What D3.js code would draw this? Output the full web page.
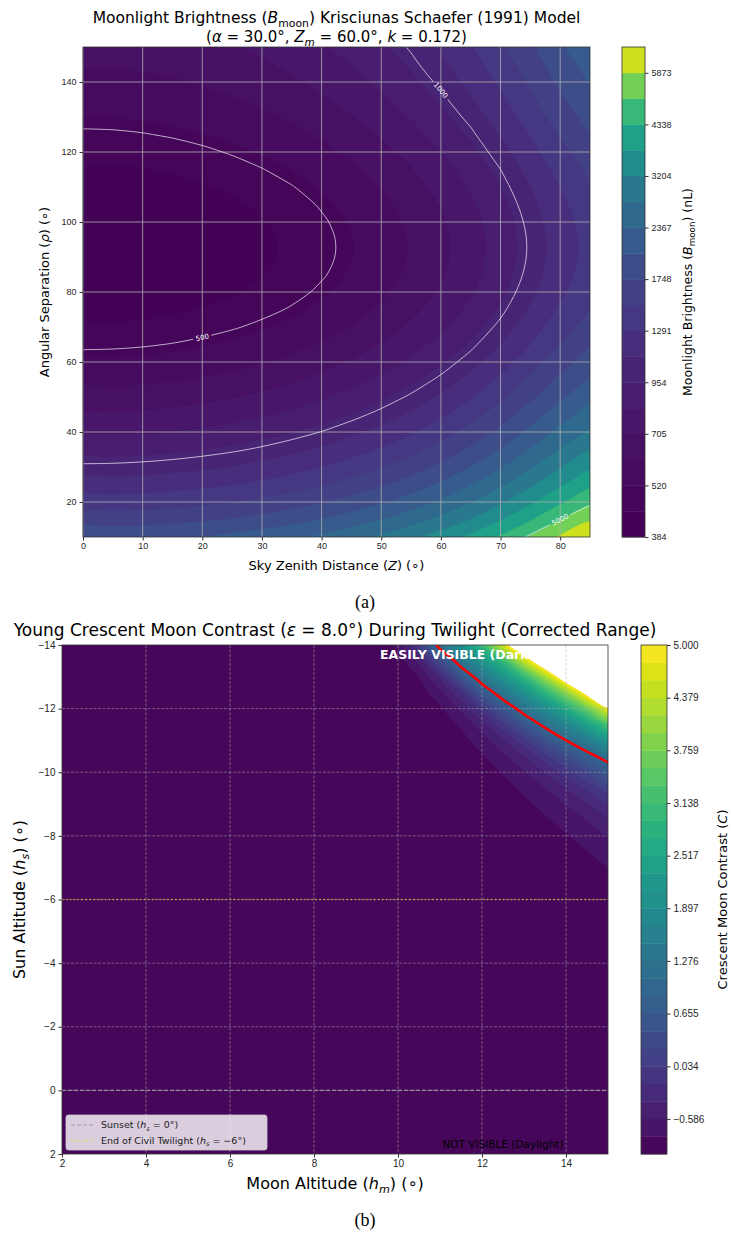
<!DOCTYPE html>
<html>
<head>
<meta charset="utf-8">
<script src="https://cdn.jsdelivr.net/npm/d3@7"></script>
<style>
  body { margin: 0; background: #fff; }
  svg { display: block; font-family: "DejaVu Sans", sans-serif; }
  .tick text { fill: #262626; }
  .tick line { stroke: #333; }
</style>
</head>
<body>
<svg id="fig" width="731" height="1234"></svg>
<script>
// ---------- panel (a): moonlight brightness, Krisciunas & Schaefer ----------
// brightness along the Z = 0 column (nL) for each angular separation
const rhoDeg = [10, 15, 20, 25, 30, 35, 40, 45, 50, 55, 60, 65, 70, 75, 80, 85, 90,
  95, 100, 105, 110, 115, 120, 125, 130, 135, 140, 145, 150];
const brightnessAtZenith = [1935.0, 1616.8, 1370.3, 1176.9, 1023.1, 898.7, 796.7, 711.9,
  640.6, 580.4, 529.7, 487.5, 452.9, 425.6, 405.4, 392.1, 385.3, 384.9, 390.6, 401.8,
  418.1, 438.9, 463.3, 490.5, 519.8, 550.0, 580.4, 609.8, 637.5];
// relative brightening with sky zenith distance
const zenithDeg = [0, 5, 10, 15, 20, 25, 30, 35, 40, 45, 50, 55, 60, 65, 70, 75, 80, 85];
const zenithGain = [1.0000, 1.0033, 1.0136, 1.0311, 1.0563, 1.0903, 1.1341, 1.1888,
  1.2593, 1.3462, 1.4550, 1.5919, 1.7659, 1.9891, 2.2773, 2.6462, 3.0920, 3.5311];

const brightnessLevels = [384.1, 447, 520, 605.5, 705, 820, 954, 1110, 1291, 1502, 1748,
  2034, 2367, 2754, 3204, 3728, 4338, 5048, 5873, 6834];
const brightnessTicks = [384, 520, 705, 954, 1291, 1748, 2367, 3204, 4338, 5873];
const lineLevels = [500, 1000, 5000];
const lineLabelSpots = [
  { level: 500, z: 22.4, rho: 68 },
  { level: 1000, z: 59.5, rho: 138.6 },
  { level: 5000, z: 79.2, rho: 14.6 }
];
const zenithTicks = [0, 10, 20, 30, 40, 50, 60, 70, 80];
const rhoTicks = [20, 40, 60, 80, 100, 120, 140];

// ---------- panel (b): young crescent contrast ----------
const moonAltDeg = [9, 9.5, 10, 10.5, 11, 11.5, 12, 12.5, 13, 13.5, 14, 14.5, 15];
const sunAltDeg = [-14, -13.5, -13, -12.5, -12, -11.5, -11, -10.5, -10, -9.5, -9, -8.5,
  -8, -7.5, -7, -6.5];
// contrast; outside this block the field sits at the floor (-1)
const contrastRows = [
  [-1.00, -0.97, -0.74, 0.03, 1.21, 1.97, 2.96, 4.60, 5.99, 8.22, 11.12, 14.88, 19.72],
  [-1.00, -0.99, -0.90, -0.53, 0.33, 1.30, 2.04, 3.01, 4.45, 5.89, 7.97, 10.65, 14.07],
  [-1.00, -1.00, -0.96, -0.79, -0.33, 0.51, 1.33, 2.05, 2.97, 4.15, 5.65, 7.55, 9.98],
  [-1.00, -1.00, -0.98, -0.90, -0.66, -0.18, 0.59, 1.32, 1.99, 2.84, 3.92, 5.28, 6.99],
  [-1.00, -1.00, -0.99, -0.96, -0.83, -0.55, -0.08, 0.59, 1.25, 1.87, 2.64, 3.61, 4.81],
  [-1.00, -1.00, -1.00, -0.98, -0.92, -0.76, -0.47, -0.03, 0.54, 1.15, 1.70, 2.38, 3.23],
  [-1.00, -1.00, -1.00, -0.99, -0.96, -0.87, -0.69, -0.41, -0.03, 0.45, 1.00, 1.48, 2.08],
  [-1.00, -1.00, -1.00, -1.00, -0.98, -0.93, -0.82, -0.64, -0.38, -0.05, 0.35, 0.80, 1.24],
  [-1.00, -1.00, -1.00, -1.00, -0.99, -0.96, -0.90, -0.78, -0.61, -0.37, -0.08, 0.25, 0.61],
  [-1.00, -1.00, -1.00, -1.00, -0.99, -0.98, -0.94, -0.87, -0.75, -0.59, -0.38, -0.13, 0.14],
  [-1.00, -1.00, -1.00, -1.00, -1.00, -0.99, -0.97, -0.92, -0.84, -0.73, -0.58, -0.40, -0.19],
  [-1.00, -1.00, -1.00, -1.00, -1.00, -0.99, -0.98, -0.95, -0.90, -0.82, -0.72, -0.58, -0.42],
  [-1.00, -1.00, -1.00, -1.00, -1.00, -1.00, -0.99, -0.97, -0.94, -0.88, -0.81, -0.71, -0.59],
  [-1.00, -1.00, -1.00, -1.00, -1.00, -1.00, -0.99, -0.98, -0.96, -0.92, -0.87, -0.80, -0.71],
  [-1.00, -1.00, -1.00, -1.00, -1.00, -1.00, -1.00, -0.99, -0.98, -0.95, -0.91, -0.86, -0.79],
  [-1.00, -1.00, -1.00, -1.00, -1.00, -1.00, -1.00, -0.99, -0.98, -0.97, -0.94, -0.90, -0.85]
];
const contrastLevels = [-1, -0.7931, -0.5862, -0.3793, -0.1724, 0.0345, 0.2414, 0.4483,
  0.6552, 0.8621, 1.0690, 1.2759, 1.4828, 1.6897, 1.8966, 2.1034, 2.3103, 2.5172, 2.7241,
  2.9310, 3.1379, 3.3448, 3.5517, 3.7586, 3.9655, 4.1724, 4.3793, 4.5862, 4.7931, 5.0];
const contrastTicks = [5.000, 4.379, 3.759, 3.138, 2.517, 1.897, 1.276, 0.655, 0.034, -0.586];
const visibilityContrast = 1.0;
const sunsetAlt = 0;
const civilTwilightAlt = -6;
const moonAltTicks = [2, 4, 6, 8, 10, 12, 14];
const sunAltTicks = [-14, -12, -10, -8, -6, -4, -2, 0, 2];

// ---------- layout ----------
const boxA = { x0: 83, x1: 590, y0: 47, y1: 537 };
const cbA = { x0: 622, x1: 645 };
const boxB = { x0: 62, x1: 608, y0: 645, y1: 1154 };
const cbB = { x0: 641, x1: 667 };

const svg = d3.select('#fig');
const defs = svg.append('defs');

// text with italic / subscript pieces, like matplotlib mathtext
function richText(sel, parts, fs) {
  const text = sel.append('text').attr('font-size', fs);
  let shift = 0;
  parts.forEach(p => {
    const ts = text.append('tspan').text(p.t);
    if (p.i) ts.attr('font-style', 'italic');
    const want = p.sub ? fs * 0.24 : 0;
    if (want !== shift) { ts.attr('dy', want - shift); shift = want; }
    if (p.sub) ts.attr('font-size', fs * 0.7);
  });
  return text;
}

// maps d3.contours grid space to pixels
function gridToPixel(xVals, yVals, xs, ys) {
  const ix = d3.scaleLinear([0, xVals.length - 1], [xVals[0], xVals[xVals.length - 1]]).clamp(true);
  const iy = d3.scaleLinear([0, yVals.length - 1], [yVals[0], yVals[yVals.length - 1]]).clamp(true);
  return (x, y) => [xs(ix(x - 0.5)), ys(iy(y - 0.5))];
}

// smooth filled path for a contour MultiPolygon
const closedCurve = d3.line().curve(d3.curveCatmullRomClosed.alpha(0.5));
function bandPath(geom, fn) {
  return geom.coordinates.map(poly => poly.map(ring =>
    closedCurve(ring.slice(0, -1).map(p => fn(p[0], p[1])))).join('')).join('');
}

// open polylines of one contour, without the parts that run along the frame
function contourPolylines(geom, fn, box) {
  const eps = 0.01;
  const on = (a, b, k, v) => Math.abs(a[k] - v) < eps && Math.abs(b[k] - v) < eps;
  const alongFrame = (a, b) => on(a, b, 0, box.x0) || on(a, b, 0, box.x1) ||
    on(a, b, 1, box.y0) || on(a, b, 1, box.y1);
  const lines = [];
  geom.coordinates.forEach(poly => poly.forEach(ring => {
    const pts = ring.map(p => fn(p[0], p[1]));
    const n = pts.length - 1;
    const drop = d3.range(n).map(k => alongFrame(pts[k], pts[k + 1]));
    const first = drop.indexOf(true);
    if (first < 0) { lines.push(pts); return; }
    let cur = [];
    for (let s = 1; s <= n; s++) {
      const k = (first + s) % n;
      if (drop[k]) { if (cur.length > 1) lines.push(cur); cur = []; }
      else { if (!cur.length) cur.push(pts[k]); cur.push(pts[k + 1]); }
    }
    if (cur.length > 1) lines.push(cur);
  }));
  return lines;
}
const openCurve = d3.line().curve(d3.curveCatmullRom.alpha(0.5));

function frame(g, box) {
  g.append('rect').attr('x', box.x0).attr('y', box.y0)
    .attr('width', box.x1 - box.x0).attr('height', box.y1 - box.y0)
    .attr('fill', 'none').attr('stroke', '#333').attr('stroke-width', 0.8);
}

function styleAxis(g, fs) {
  g.select('.domain').remove();
  g.selectAll('.tick text').attr('font-size', fs);
}

// =============== panel (a) ===============
const xA = d3.scaleLinear([0, 85], [boxA.x0, boxA.x1]);
const yA = d3.scaleLinear([10, 150], [boxA.y1, boxA.y0]);
const gA = svg.append('g');

defs.append('clipPath').attr('id', 'clipA').append('rect')
  .attr('x', boxA.x0).attr('y', boxA.y0)
  .attr('width', boxA.x1 - boxA.x0).attr('height', boxA.y1 - boxA.y0);

const valuesA = rhoDeg.flatMap((r, j) => zenithDeg.map((z, i) => brightnessAtZenith[j] * zenithGain[i]));
const contoursA = d3.contours().size([zenithDeg.length, rhoDeg.length]);
const fnA = gridToPixel(zenithDeg, rhoDeg, xA, yA);
const lvA0 = brightnessLevels[0], lvA1 = brightnessLevels[brightnessLevels.length - 1];
const bandColorA = i => d3.interpolateViridis(
  ((brightnessLevels[i] + brightnessLevels[i + 1]) / 2 - lvA0) / (lvA1 - lvA0));

const fillA = gA.append('g').attr('clip-path', 'url(#clipA)');
brightnessLevels.slice(0, -1).forEach((lv, i) => {
  fillA.append('path').attr('d', bandPath(contoursA.contour(valuesA, lv), fnA))
    .attr('fill', bandColorA(i)).attr('fill-rule', 'evenodd')
    .attr('stroke', bandColorA(i)).attr('stroke-width', 0.3);
});

// grid
const gridA = gA.append('g').attr('stroke', '#b0b0b0').attr('stroke-opacity', 0.8).attr('stroke-width', 1);
zenithTicks.forEach(t => gridA.append('line').attr('x1', xA(t)).attr('x2', xA(t)).attr('y1', boxA.y0).attr('y2', boxA.y1));
rhoTicks.forEach(t => gridA.append('line').attr('y1', yA(t)).attr('y2', yA(t)).attr('x1', boxA.x0).attr('x2', boxA.x1));

// labelled contour lines
const lineGeoms = lineLevels.map(lv => contourPolylines(contoursA.contour(valuesA, lv), fnA, boxA));
const lineG = gA.append('g').attr('mask', 'url(#lblMask)');
const labelG = gA.append('g');
const mask = defs.append('mask').attr('id', 'lblMask').attr('maskUnits', 'userSpaceOnUse')
  .attr('x', 0).attr('y', 0).attr('width', 731).attr('height', 1234);
mask.append('rect').attr('width', 731).attr('height', 1234).attr('fill', '#fff');
lineLabelSpots.forEach(spot => {
  const lines = lineGeoms[lineLevels.indexOf(spot.level)];
  const tx = xA(spot.z), ty = yA(spot.rho);
  let best = null;
  lines.forEach(l => l.forEach((p, k) => {
    const d = (p[0] - tx) ** 2 + (p[1] - ty) ** 2;
    if (!best || d < best.d) best = { d, l, k };
  }));
  const p = best.l[best.k];
  const a = best.l[Math.max(0, best.k - 1)], b = best.l[Math.min(best.l.length - 1, best.k + 1)];
  let ang = Math.atan2(b[1] - a[1], b[0] - a[0]) * 180 / Math.PI;
  if (ang > 90) ang -= 180;
  if (ang < -90) ang += 180;
  const t = labelG.append('text').attr('transform', `translate(${p[0]},${p[1]}) rotate(${ang})`)
    .attr('text-anchor', 'middle').attr('dy', '0.35em').attr('font-size', 7)
    .attr('fill', '#fff').text(spot.level);
  const w = t.node().getComputedTextLength() + 5;
  mask.append('rect').attr('x', -w / 2).attr('y', -4.5).attr('width', w).attr('height', 9)
    .attr('fill', '#000').attr('transform', `translate(${p[0]},${p[1]}) rotate(${ang})`);
});
lineGeoms.forEach(lines => lines.forEach(l => {
  lineG.append('path').attr('d', openCurve(l)).attr('fill', 'none')
    .attr('stroke', '#fff').attr('stroke-opacity', 0.75).attr('stroke-width', 0.9);
}));

frame(gA, boxA);

const axXA = gA.append('g').attr('transform', `translate(0,${boxA.y1})`)
  .call(d3.axisBottom(xA).tickValues(zenithTicks).tickSize(3.5).tickPadding(2.5));
styleAxis(axXA, 9);
const axYA = gA.append('g').attr('transform', `translate(${boxA.x0},0)`)
  .call(d3.axisLeft(yA).tickValues(rhoTicks).tickSize(3.5).tickPadding(3));
styleAxis(axYA, 9);

richText(gA, [{ t: 'Sky Zenith Distance (' }, { t: 'Z', i: true }, { t: ') (∘)' }], 13)
  .attr('x', (boxA.x0 + boxA.x1) / 2).attr('y', 570).attr('text-anchor', 'middle');
richText(gA, [{ t: 'Angular Separation (' }, { t: 'ρ', i: true }, { t: ') (∘)' }], 13)
  .attr('transform', `translate(49,${(boxA.y0 + boxA.y1) / 2}) rotate(-90)`).attr('text-anchor', 'middle');
richText(gA, [{ t: 'Moonlight Brightness (' }, { t: 'B', i: true }, { t: 'moon', sub: true }, { t: ') Krisciunas Schaefer (1991) Model' }], 15.5)
  .attr('x', (boxA.x0 + boxA.x1) / 2).attr('y', 23).attr('text-anchor', 'middle');
richText(gA, [{ t: '(' }, { t: 'α', i: true }, { t: ' = 30.0°, ' }, { t: 'Z', i: true }, { t: 'm', i: true, sub: true },
  { t: ' = 60.0°, ' }, { t: 'k', i: true }, { t: ' = 0.172)' }], 15)
  .attr('x', (boxA.x0 + boxA.x1) / 2).attr('y', 42).attr('text-anchor', 'middle');

// colorbar (a): equal-height bands
const cbIdxA = d3.scaleLinear([0, brightnessLevels.length - 1], [boxA.y1, boxA.y0]);
const cbYA = d3.scaleLinear().domain(brightnessLevels).range(brightnessLevels.map((d, i) => cbIdxA(i)));
brightnessLevels.slice(0, -1).forEach((lv, i) => {
  gA.append('rect').attr('x', cbA.x0).attr('width', cbA.x1 - cbA.x0)
    .attr('y', cbYA(brightnessLevels[i + 1])).attr('height', cbYA(lv) - cbYA(brightnessLevels[i + 1]) + 0.4)
    .attr('fill', bandColorA(i));
});
gA.append('rect').attr('x', cbA.x0).attr('y', boxA.y0).attr('width', cbA.x1 - cbA.x0)
  .attr('height', boxA.y1 - boxA.y0).attr('fill', 'none').attr('stroke', '#333').attr('stroke-width', 0.8);
const axCA = gA.append('g').attr('transform', `translate(${cbA.x1},0)`)
  .call(d3.axisRight(cbYA).tickValues(brightnessTicks).tickFormat(d3.format('d')).tickSize(3.5).tickPadding(3));
styleAxis(axCA, 9);
richText(gA, [{ t: 'Moonlight Brightness (' }, { t: 'B', i: true }, { t: 'moon', sub: true }, { t: ') (nL)' }], 12.5)
  .attr('transform', `translate(692,${(boxA.y0 + boxA.y1) / 2}) rotate(-90)`).attr('text-anchor', 'middle');

svg.append('text').attr('x', 365).attr('y', 608).attr('text-anchor', 'middle')
  .attr('font-family', '"Liberation Serif", "Times New Roman", serif').attr('font-size', 18).text('(a)');

// =============== panel (b) ===============
const xB = d3.scaleLinear([2, 15], [boxB.x0, boxB.x1]);
const yB = d3.scaleLinear([-14, 2], [boxB.y0, boxB.y1]);
const gB = svg.append('g');

defs.append('clipPath').attr('id', 'clipB').append('rect')
  .attr('x', boxB.x0).attr('y', boxB.y0)
  .attr('width', boxB.x1 - boxB.x0).attr('height', boxB.y1 - boxB.y0);

const nLvB = contrastLevels.length;
const bandColorB = i => d3.interpolateViridis(
  ((contrastLevels[i] + contrastLevels[i + 1]) / 2 - contrastLevels[0]) / (contrastLevels[nLvB - 1] - contrastLevels[0]));

const valuesB = contrastRows.flat();
const contoursB = d3.contours().size([moonAltDeg.length, sunAltDeg.length]);
const fnB = gridToPixel(moonAltDeg, sunAltDeg, xB, yB);

const fillB = gB.append('g').attr('clip-path', 'url(#clipB)');
fillB.append('rect').attr('x', boxB.x0).attr('y', boxB.y0)
  .attr('width', boxB.x1 - boxB.x0).attr('height', boxB.y1 - boxB.y0).attr('fill', bandColorB(0));
contrastLevels.slice(1, -1).forEach((lv, k) => {
  const i = k + 1;
  fillB.append('path').attr('d', bandPath(contoursB.contour(valuesB, lv), fnB))
    .attr('fill', bandColorB(i)).attr('fill-rule', 'evenodd')
    .attr('stroke', bandColorB(i)).attr('stroke-width', 0.3);
});
// above the top level contourf leaves the axes white
fillB.append('path').attr('d', bandPath(contoursB.contour(valuesB, contrastLevels[nLvB - 1]), fnB))
  .attr('fill', '#fff').attr('fill-rule', 'evenodd');

const gridB = gB.append('g').attr('stroke', '#b0b0b0').attr('stroke-opacity', 0.6)
  .attr('stroke-width', 0.8).attr('stroke-dasharray', '3,1.5');
moonAltTicks.slice(1).forEach(t => gridB.append('line').attr('x1', xB(t)).attr('x2', xB(t)).attr('y1', boxB.y0).attr('y2', boxB.y1));
sunAltTicks.slice(1, -1).forEach(t => gridB.append('line').attr('y1', yB(t)).attr('y2', yB(t)).attr('x1', boxB.x0).attr('x2', boxB.x1));

const sunsetStyle = { stroke: '#999', opacity: 0.9, width: 1.2, dash: '4,2' };
const civilStyle = { stroke: '#ffff00', opacity: 0.5, width: 1.5, dash: '1.5,2.4' };
function refLine(y, st) {
  gB.append('line').attr('x1', boxB.x0).attr('x2', boxB.x1).attr('y1', y).attr('y2', y)
    .attr('stroke', st.stroke).attr('stroke-opacity', st.opacity)
    .attr('stroke-width', st.width).attr('stroke-dasharray', st.dash);
}
refLine(yB(sunsetAlt), sunsetStyle);
refLine(yB(civilTwilightAlt), civilStyle);

// visibility threshold contour in red
contourPolylines(contoursB.contour(valuesB, visibilityContrast), fnB, boxB).forEach(l => {
  gB.append('path').attr('d', openCurve(l)).attr('fill', 'none')
    .attr('stroke', '#ff0000').attr('stroke-width', 2.6).attr('clip-path', 'url(#clipB)');
});

gB.append('text').attr('x', xB(9.57)).attr('y', yB(-13.55)).attr('font-size', 12.5)
  .attr('font-weight', 'bold').attr('fill', '#fff').text('EASILY VISIBLE (Dark Sky)');
gB.append('text').attr('x', xB(12.5)).attr('y', yB(1.8)).attr('font-size', 10.5)
  .attr('text-anchor', 'middle').attr('fill', '#000').text('NOT VISIBLE (Daylight)');

// legend
const lg = gB.append('g').attr('transform', `translate(${boxB.x0 + 4},${boxB.y1 - 39})`);
lg.append('rect').attr('width', 201).attr('height', 35).attr('rx', 2.5)
  .attr('fill', '#fff').attr('fill-opacity', 0.8).attr('stroke', '#ccc').attr('stroke-width', 0.8);
[[sunsetStyle, [{ t: 'Sunset (' }, { t: 'h', i: true }, { t: 's', i: true, sub: true }, { t: ' = 0°)' }]],
 [civilStyle, [{ t: 'End of Civil Twilight (' }, { t: 'h', i: true }, { t: 's', i: true, sub: true }, { t: ' = −6°)' }]]]
  .forEach(([st, parts], k) => {
    const yy = 10 + k * 15.5;
    lg.append('line').attr('x1', 5).attr('x2', 29).attr('y1', yy).attr('y2', yy)
      .attr('stroke', st.stroke).attr('stroke-opacity', st.opacity)
      .attr('stroke-width', st.width).attr('stroke-dasharray', st.dash);
    richText(lg, parts, 9.5).attr('x', 35).attr('y', yy + 3.3).attr('fill', '#222');
  });

frame(gB, boxB);

const axXB = gB.append('g').attr('transform', `translate(0,${boxB.y1})`)
  .call(d3.axisBottom(xB).tickValues(moonAltTicks).tickSize(3.5).tickPadding(2.5));
styleAxis(axXB, 10);
const axYB = gB.append('g').attr('transform', `translate(${boxB.x0},0)`)
  .call(d3.axisLeft(yB).tickValues(sunAltTicks).tickSize(3.5).tickPadding(3));
styleAxis(axYB, 10);

richText(gB, [{ t: 'Young Crescent Moon Contrast (' }, { t: 'ε', i: true }, { t: ' = 8.0°) During Twilight (Corrected Range)' }], 17)
  .attr('x', (boxB.x0 + boxB.x1) / 2).attr('y', 636).attr('text-anchor', 'middle');
richText(gB, [{ t: 'Moon Altitude (' }, { t: 'h', i: true }, { t: 'm', i: true, sub: true }, { t: ') (∘)' }], 16)
  .attr('x', (boxB.x0 + boxB.x1) / 2).attr('y', 1189).attr('text-anchor', 'middle');
richText(gB, [{ t: 'Sun Altitude (' }, { t: 'h', i: true }, { t: 's', i: true, sub: true }, { t: ') (∘)' }], 16)
  .attr('transform', `translate(25,${(boxB.y0 + boxB.y1) / 2}) rotate(-90)`).attr('text-anchor', 'middle');

// colorbar (b)
const cbYB = d3.scaleLinear([contrastLevels[0], contrastLevels[nLvB - 1]], [boxB.y1, boxB.y0]);
contrastLevels.slice(0, -1).forEach((lv, i) => {
  gB.append('rect').attr('x', cbB.x0).attr('width', cbB.x1 - cbB.x0)
    .attr('y', cbYB(contrastLevels[i + 1])).attr('height', cbYB(lv) - cbYB(contrastLevels[i + 1]) + 0.4)
    .attr('fill', bandColorB(i));
});
gB.append('rect').attr('x', cbB.x0).attr('y', boxB.y0).attr('width', cbB.x1 - cbB.x0)
  .attr('height', boxB.y1 - boxB.y0).attr('fill', 'none').attr('stroke', '#333').attr('stroke-width', 0.8);
const axCB = gB.append('g').attr('transform', `translate(${cbB.x1},0)`)
  .call(d3.axisRight(cbYB).tickValues(contrastTicks).tickFormat(d3.format('.3f')).tickSize(3.5).tickPadding(3));
styleAxis(axCB, 10);
richText(gB, [{ t: 'Crescent Moon Contrast (' }, { t: 'C', i: true }, { t: ')' }], 13)
  .attr('transform', `translate(727,${(boxB.y0 + boxB.y1) / 2}) rotate(-90)`).attr('text-anchor', 'middle');

svg.append('text').attr('x', 365).attr('y', 1226).attr('text-anchor', 'middle')
  .attr('font-family', '"Liberation Serif", "Times New Roman", serif').attr('font-size', 18).text('(b)');
</script>
</body>
</html>
